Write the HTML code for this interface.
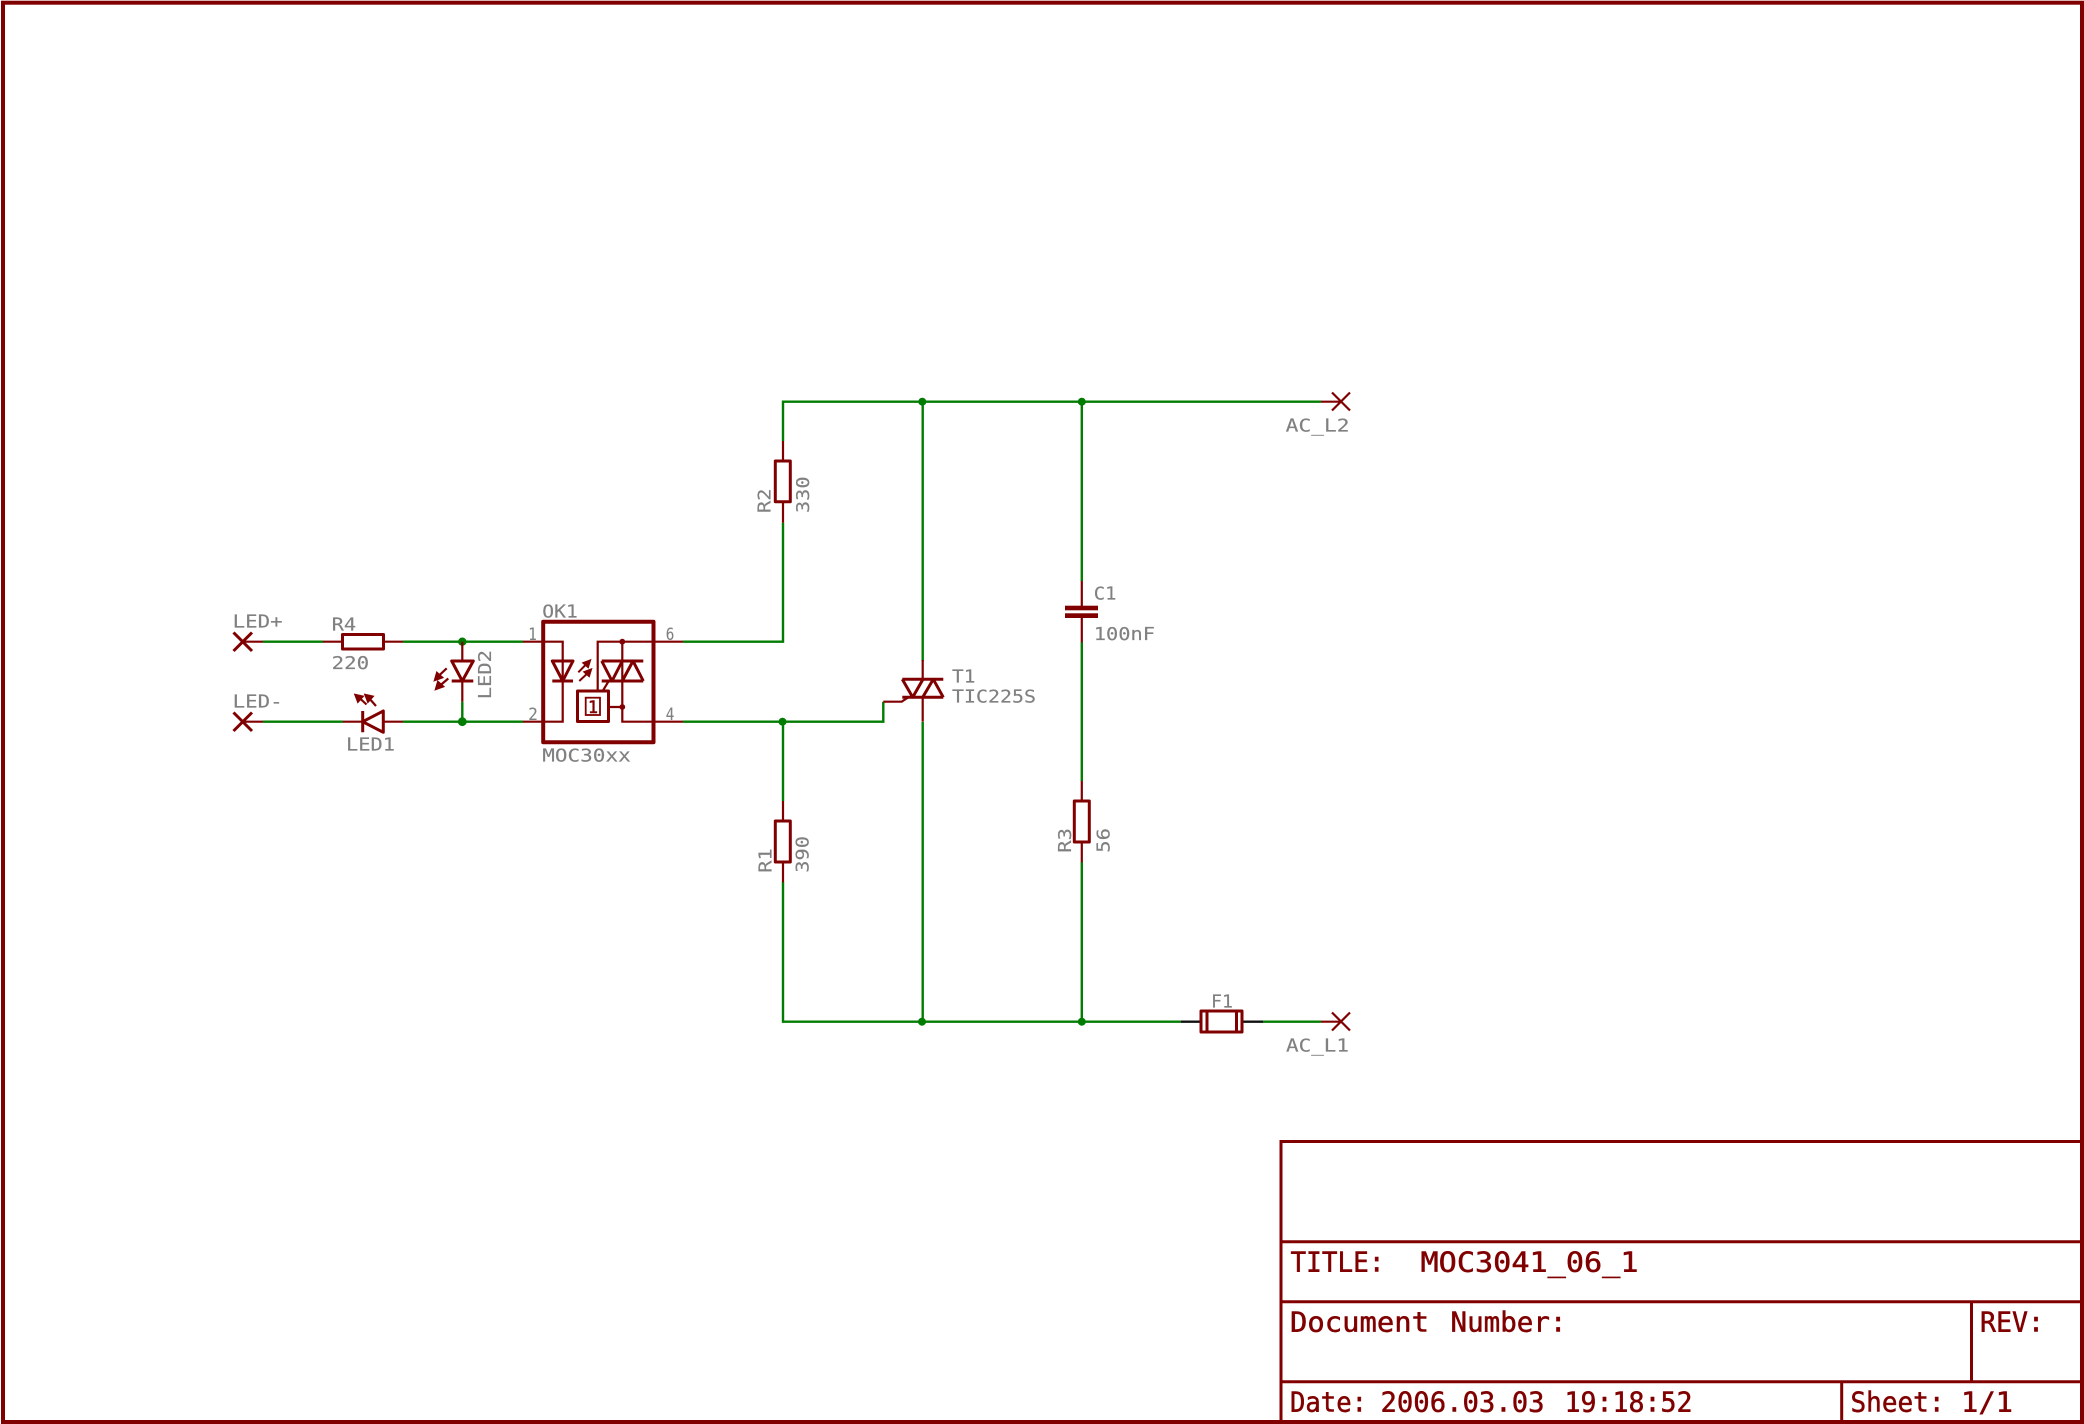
<!DOCTYPE html>
<html><head><meta charset="utf-8"><title>MOC3041_06_1</title>
<style>
html,body{margin:0;padding:0;background:#fff}
svg{display:block}
text{font-family:"DejaVu Sans Mono","Liberation Mono",monospace;white-space:pre}
.g text{fill:#808080;stroke:#808080;stroke-width:.15px;font-size:18px}
.n text{fill:#808080;stroke:#808080;stroke-width:.1px;font-size:16.5px}
.t text{fill:#800000;stroke:#800000;stroke-width:.5px;font-size:27.5px}
.w{stroke:#007c00;stroke-width:2.4;fill:none}
.r{stroke:#800000;stroke-width:2.2;fill:none}
.h{stroke:#800000;stroke-width:3;fill:none;stroke-linejoin:round}
.k{stroke:#800000;stroke-width:4;fill:none;stroke-linejoin:round}
</style></head><body>
<svg xmlns="http://www.w3.org/2000/svg" width="2084" height="1424" viewBox="0 0 2084 1424">
<rect width="2084" height="1424" fill="#fff"/>
<!-- frame -->
<rect x="3" y="2.7" width="2079" height="1419.3" fill="none" stroke="#800000" stroke-width="4"/>
<g fill="none" stroke="#800000" stroke-width="3">
<path d="M1281 1422V1141.5H2082M1281 1241.7H2082M1281 1301.7H2082M1281 1381.7H2082M1971.5 1301.7V1381.7M1841.7 1381.7V1422"/>
</g>
<g class="t">
<text x="1290.5" y="1271.7" textLength="94" lengthAdjust="spacingAndGlyphs">TITLE:</text>
<text x="1420.5" y="1271.7" textLength="218" lengthAdjust="spacingAndGlyphs">MOC3041_06_1</text>
<text x="1290" y="1331.5" textLength="139" lengthAdjust="spacingAndGlyphs">Document</text>
<text x="1450.5" y="1331.5" textLength="116" lengthAdjust="spacingAndGlyphs">Number:</text>
<text x="1980" y="1331.5" textLength="64" lengthAdjust="spacingAndGlyphs">REV:</text>
<text x="1290" y="1411.7" textLength="77" lengthAdjust="spacingAndGlyphs">Date:</text>
<text x="1380.5" y="1411.7" textLength="164" lengthAdjust="spacingAndGlyphs">2006.03.03</text>
<text x="1564.5" y="1411.7" textLength="128" lengthAdjust="spacingAndGlyphs">19:18:52</text>
<text x="1850.5" y="1411.7" textLength="94" lengthAdjust="spacingAndGlyphs">Sheet:</text>
<text x="1961" y="1411.7" textLength="52" lengthAdjust="spacingAndGlyphs">1/1</text>
</g>
<!-- nets -->
<path class="w" d="M263 641.7H323M403 641.7H523M683 641.7H783V522.7M783 441V401.7H1321M922.7 401.7V661M1081.8 401.7V581M462.3 701.7V721.7M263 721.7H343M403 721.7H523M683 721.7H883.3V701.7M783 721.7V801M783 882V1021.7H1181M922.7 722V1021.7M1081.8 642V781M1081.8 862V1021.7M1263 1021.7H1321"/>
<g fill="#007c00">
<circle cx="462.3" cy="641.7" r="4.2"/><circle cx="462.3" cy="721.7" r="4.4"/>
<circle cx="782.5" cy="721.7" r="4"/><ellipse cx="922.3" cy="401.7" rx="4" ry="4"/><ellipse cx="1081.8" cy="401.7" rx="4" ry="4"/>
<circle cx="922" cy="1021.7" r="4"/><circle cx="1081.8" cy="1021.7" r="4"/>
</g>
<!-- crosses and pins -->
<path class="h" d="M233.5 632.5L252 651M252 632.5L233.5 651M233.5 712.5L252 731M252 712.5L233.5 731"/>
<path class="r" d="M243 641.7H263M243 721.7H263M1321 401.7H1341M1321 1021.7H1341"/>
<path class="r" stroke-width="2" d="M1332 392.5L1350 410.5M1350 392.5L1332 410.5M1332 1012.5L1350 1030.5M1350 1012.5L1332 1030.5"/>
<!-- R4 -->
<rect class="h" x="342.5" y="634.5" width="41" height="14.5"/>
<path class="r" d="M323 641.7H343M383 641.7H403"/>
<!-- LED1 -->
<path class="r" d="M343 721.7H363M383 721.7H403"/>
<path class="h" d="M362.7 711V732.3M362.7 721.7L383.3 711V732.3Z"/>
<g fill="#800000" stroke="#800000" stroke-width="2.2">
<path d="M366.5 704.5L359 697.5"/><path d="M355.5 695L362.5 696.5L358 701.5Z"/>
<path d="M376 706L368.5 697.5"/><path d="M365.5 695L372.5 696.5L368 701.5Z"/>
</g>
<!-- LED2 -->
<path class="r" d="M462.3 641.7V661M462.3 681V701.7"/>
<path class="h" d="M451.7 681H473.3M451.7 661H473.3L462.3 681Z"/>
<g fill="#800000" stroke="#800000" stroke-width="2.2">
<path d="M446.7 668.3L438 676.5"/><path d="M435 680L437 673L442 677.5Z"/>
<path d="M448.3 678.5L439.5 686"/><path d="M436 689L438 682L443 686.5Z"/>
</g>
<!-- OK1 -->
<rect class="k" x="543.2" y="621.7" width="110.3" height="120.5"/>
<path class="r" d="M523 641.7H562.7V721.7H523M683 641.7H597.7V691M622.3 641.7V721.7H683M608.3 707H622.3M602.7 691L608.3 681.7"/>
<path class="h" d="M552.3 681H573M552.3 661H573L562.7 681Z"/>
<g fill="#800000" stroke="#800000" stroke-width="2">
<path d="M578.3 672.3L586 664.5"/><path d="M590 660.5L588 667L583.5 663Z"/>
<path d="M579.3 681L587.3 673.5"/><path d="M591 669.5L589 676L584.5 672Z"/>
</g>
<path class="h" d="M601.7 661H643.3M601.7 681H643.3M601.7 661L612 681L622.3 661M622.3 681L633 661L643.3 681"/>
<rect class="h" x="577.5" y="691" width="31" height="30.5"/>
<rect x="585.7" y="697.7" width="14.3" height="17.3" fill="none" stroke="#800000" stroke-width="1.8"/>
<text x="588" y="713" font-size="17" fill="#800000" stroke="#800000" stroke-width=".6" textLength="10" lengthAdjust="spacingAndGlyphs">1</text>
<circle cx="622.3" cy="641.7" r="2.9" fill="#800000"/><circle cx="622.3" cy="707" r="2.9" fill="#800000"/>
<!-- R2 R1 R3 -->
<path class="r" d="M783 441V461M783 502V522.7M783 801V821M783 862V882.3M1081.8 781V801M1081.8 842V862.3"/>
<rect class="h" x="775.3" y="461" width="15" height="40.7"/>
<rect class="h" x="775.3" y="821" width="15" height="41"/>
<rect class="h" x="1074.3" y="801" width="15" height="41"/>
<!-- C1 -->
<path class="r" d="M1081.8 581V606M1081.8 618V642.3"/>
<rect x="1065" y="605.7" width="33" height="4.6" fill="#800000"/>
<rect x="1065" y="613.3" width="33" height="4.7" fill="#800000"/>
<!-- T1 -->
<path class="r" d="M922.7 660V679.3M922.7 697.3V721.7M883.3 701.7H901.7L908.3 697.3"/>
<path class="h" d="M902.3 679.3H943.3M902.3 697.3H943.3M902.3 679.3L912.7 697.3L923 679.3M922.7 697.3L933.3 679.3L943.3 697.3"/>
<!-- F1 -->
<path stroke="#101010" stroke-width="2.4" fill="none" d="M1181 1021.7H1201M1241 1021.7H1263"/>
<rect class="h" x="1201" y="1011" width="41" height="21"/>
<path class="h" d="M1207 1011V1032M1236.5 1011V1032"/>
<!-- labels -->
<g class="g">
<text x="232.7" y="627.7" textLength="50" lengthAdjust="spacingAndGlyphs">LED+</text>
<text x="232.7" y="707.7" textLength="50" lengthAdjust="spacingAndGlyphs">LED-</text>
<text x="331.7" y="630.7" textLength="24.5" lengthAdjust="spacingAndGlyphs">R4</text>
<text x="331.7" y="669" textLength="37.5" lengthAdjust="spacingAndGlyphs">220</text>
<text x="346" y="750.7" textLength="49" lengthAdjust="spacingAndGlyphs">LED1</text>
<text transform="translate(491 699.3) rotate(-90)" textLength="49.3" lengthAdjust="spacingAndGlyphs">LED2</text>
<text x="542.3" y="617.7" textLength="35.5" lengthAdjust="spacingAndGlyphs">OK1</text>
<text x="542.3" y="761.7" textLength="88.4" lengthAdjust="spacingAndGlyphs">MOC30xx</text>
<text transform="translate(770.5 513) rotate(-90)" textLength="24.5" lengthAdjust="spacingAndGlyphs">R2</text>
<text transform="translate(809 513) rotate(-90)" textLength="36.5" lengthAdjust="spacingAndGlyphs">330</text>
<text transform="translate(771.5 872.7) rotate(-90)" textLength="24.5" lengthAdjust="spacingAndGlyphs">R1</text>
<text transform="translate(808.6 872.7) rotate(-90)" textLength="36.7" lengthAdjust="spacingAndGlyphs">390</text>
<text transform="translate(1071 852.7) rotate(-90)" textLength="24.7" lengthAdjust="spacingAndGlyphs">R3</text>
<text transform="translate(1109.5 852.7) rotate(-90)" textLength="24.7" lengthAdjust="spacingAndGlyphs">56</text>
<text x="952" y="682.3" textLength="23.4" lengthAdjust="spacingAndGlyphs">T1</text>
<text x="952" y="702.3" textLength="84" lengthAdjust="spacingAndGlyphs">TIC225S</text>
<text x="1093.8" y="599.3" textLength="22.7" lengthAdjust="spacingAndGlyphs">C1</text>
<text x="1093.8" y="640" textLength="61.2" lengthAdjust="spacingAndGlyphs">100nF</text>
<text x="1285.7" y="431.7" textLength="63.8" lengthAdjust="spacingAndGlyphs">AC_L2</text>
<text x="1286" y="1051.7" textLength="63" lengthAdjust="spacingAndGlyphs">AC_L1</text>
<text x="1211" y="1007.7" textLength="22" lengthAdjust="spacingAndGlyphs">F1</text>
</g>
<g class="n">
<text x="528.3" y="640" textLength="8.6" lengthAdjust="spacingAndGlyphs">1</text>
<text x="528.3" y="720" textLength="9.6" lengthAdjust="spacingAndGlyphs">2</text>
<text x="665.7" y="640" textLength="8.6" lengthAdjust="spacingAndGlyphs">6</text>
<text x="665.7" y="720" textLength="8.6" lengthAdjust="spacingAndGlyphs">4</text>
</g>
</svg>
</body></html>
